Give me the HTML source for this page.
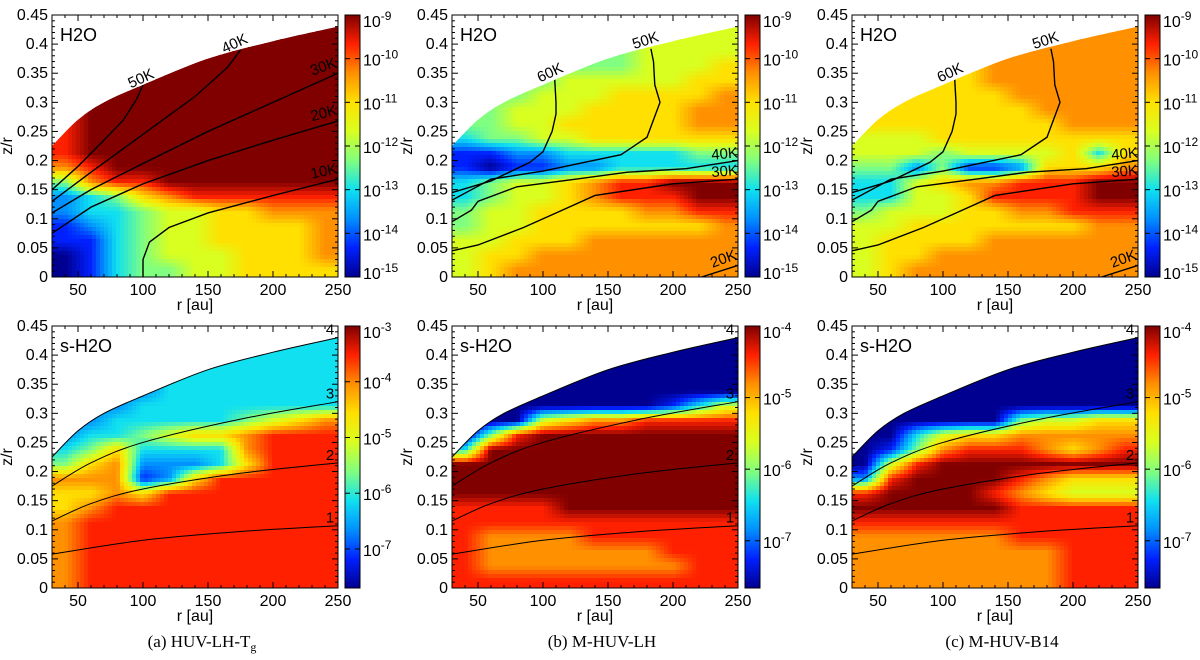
<!DOCTYPE html>
<html><head><meta charset="utf-8">
<style>
html,body{margin:0;padding:0;background:#fff;}
svg{display:block;}
text{font-family:"Liberation Sans",Arial,sans-serif;}
.cap{font-family:"Liberation Serif",serif;font-size:17px;}
</style></head>
<body>
<svg id="fig" width="1200" height="660" viewBox="0 0 1200 660" xmlns="http://www.w3.org/2000/svg">
<defs>
<linearGradient id="jet" x1="0" y1="1" x2="0" y2="0">
<stop offset="0" stop-color="#000090"/><stop offset="0.111" stop-color="#0020ff"/><stop offset="0.222" stop-color="#0090ff"/><stop offset="0.333" stop-color="#10e0f0"/><stop offset="0.444" stop-color="#80ff80"/><stop offset="0.556" stop-color="#d8ff20"/><stop offset="0.667" stop-color="#ffe000"/><stop offset="0.778" stop-color="#ff9000"/><stop offset="0.889" stop-color="#ff2000"/><stop offset="1" stop-color="#800000"/>
</linearGradient>
</defs>
</svg>
<script>
// ---- data ----
const rBins = [30,50,70,90,110,130,150,170,190,210,230,250];
const zTop = 0.45, zStep = 0.025;
const surfaceR = [30,50,70,100,150,200,250];
const surfaceZ = [0.225,0.27,0.30,0.33,0.375,0.405,0.43];

const gridA = [
[8,9,9,9,9,9,9,9,9,9,9],[8,9,9,9,9,9,9,9,9,9,9],[8,9,9,9,9,9,9,9,9,9,9],[8,9,9,9,9,9,9,9,9,9,9],
[8,9,9,9,9,9,9,9,9,9,9],[8,9,9,9,9,9,9,9,9,9,9],[8,9,9,9,9,9,9,9,9,9,9],[8,9,9,9,9,9,9,9,9,9,9],
[8,9,9,9,9,9,9,9,9,9,9],[8,9,9,9,9,9,9,9,9,9,9],[7,8,9,9,9,9,9,9,9,9,9],[4,7,8,8,9,9,9,9,9,9,9],
[2,3,4,6,7,8,8,8,8,8,8],[2,3,3,4,5,5,6,6,7,7,7],[1,2,3,4,5,5,6,6,6,6,7],[1,1,3,4,5,5,6,6,6,6,7],
[0,1,3,4,5,5,5,6,6,6,7],[0,1,3,4,4,5,5,6,6,6,6]];
const gridB = [
[4,4,4,4,4,4,4,5,5,5,5],[4,4,4,4,4,4,4,5,5,5,5],[4,4,4,4,4,4,4,5,5,5,5],[4,4,4,4,4,4,4,5,5,5,6],
[4,4,4,4,5,5,5,5,5,6,6],[4,4,4,5,5,5,6,6,6,6,7],[4,4,5,5,5,6,6,6,6,7,7],[4,4,5,5,6,6,6,6,6,7,7],
[3,4,4,5,5,6,6,6,6,6,6],[1,1,2,2,3,3,3,3,3,4,4],[1,0,1,1,2,2,3,3,3,3,3],[3,4,5,5,6,7,8,8,9,9,9],
[3,4,5,5,6,7,8,8,8,9,9],[4,5,5,6,6,6,6,7,7,8,8],[4,5,5,6,6,6,6,6,6,6,7],[5,5,6,6,6,7,7,7,7,7,7],
[5,6,6,7,7,7,7,7,7,7,7],[5,6,7,7,7,7,7,7,7,7,7]];
const gridC = [
[6,6,6,6,6,7,7,7,7,7,7],[6,6,6,6,6,7,7,7,7,7,7],[6,6,6,6,6,7,7,7,7,7,7],[6,6,6,6,6,7,7,7,7,7,7],
[6,6,6,6,6,7,7,7,7,7,7],[6,6,6,6,6,6,7,7,7,7,7],[6,6,6,6,6,6,6,7,7,7,7],[6,6,6,6,6,6,6,6,7,7,7],
[5,5,5,6,6,6,6,6,6,6,6],[5,5,5,4,5,5,5,5,6,3,6],[4,4,2,4,1,1,2,6,6,6,7],[3,3,5,6,7,7,8,8,8,9,9],
[3,3,5,5,6,8,8,8,8,9,9],[4,5,5,5,6,6,7,7,8,8,8],[5,5,6,6,6,6,6,6,6,7,7],[5,6,6,6,6,7,7,7,7,7,7],
[5,6,6,7,7,7,7,7,7,7,7],[5,6,7,7,7,7,7,7,7,7,7]];
const gridD = [
[2,2,2,2,2,2,2,3,3,3,3],[2,2,2,2,2,2,3,3,3,3,3],[2,2,2,2,2,3,3,3,3,3,3],[1,2,2,2,3,3,3,3,3,3,3],
[1,2,2,2,3,3,3,3,3,3,3],[1,2,2,3,3,3,3,3,3,3,3],[2,2,3,3,3,3,3,4,5,6,7],[2,3,3,4,5,6,6,7,8,8,8],
[3,4,6,3,3,3,3,7,8,8,8],[4,6,7,2,2,2,3,6,8,8,8],[7,7,7,1,2,6,8,8,8,8,8],[6,6,7,6,8,8,8,8,8,8,8],
[6,7,8,8,8,8,8,8,8,8,8],[7,8,8,8,8,8,8,8,8,8,8],[7,8,8,8,8,8,8,8,8,8,8],[7,8,8,8,8,8,8,8,8,8,8],
[7,8,8,8,8,8,8,8,8,8,8],[7,8,8,8,8,8,8,8,8,8,8]];
const gridE = [
[0,0,0,0,0,0,0,0,0,0,0],[0,0,0,0,0,0,0,0,0,0,0],[0,0,0,0,0,0,0,0,0,0,0],[0,0,0,0,0,0,0,0,0,0,0],
[0,0,0,0,0,0,0,0,0,0,0],[0,0,0,0,0,0,0,0,1,3,5],[0,0,0,5,6,7,7,8,8,8,8],[0,4,8,9,9,9,9,9,9,9,9],
[3,9,9,9,9,9,9,9,9,9,9],[9,9,9,9,9,9,9,9,9,9,9],[9,9,9,9,9,9,9,9,9,9,9],[9,9,9,9,9,9,9,9,9,9,9],
[8,8,8,8,9,9,9,9,9,9,9],[8,8,8,8,8,8,8,8,8,8,8],[8,7,7,7,7,8,8,8,8,8,8],[8,7,7,7,7,7,7,7,8,8,8],
[8,7,7,7,7,7,7,7,7,8,8],[8,8,8,8,8,8,8,8,8,8,8]];
const gridF = [
[0,0,0,0,0,0,0,0,0,0,0],[0,0,0,0,0,0,0,0,0,0,0],[0,0,0,0,0,0,0,0,0,0,0],[0,0,0,0,0,0,0,0,0,0,0],
[0,0,0,0,0,0,0,0,0,0,0],[0,0,0,0,0,0,0,0,0,0,0],[0,0,0,0,0,0,4,5,5,6,6],[0,0,3,5,6,6,7,7,7,7,7],
[0,1,4,7,8,8,8,7,6,7,8],[0,5,8,9,9,9,9,9,9,9,9],[2,8,9,9,9,9,8,7,6,6,6],[8,9,9,9,9,8,7,6,5,5,5],
[9,9,9,9,9,9,8,8,8,8,8],[8,8,8,8,8,8,8,8,8,8,8],[7,7,7,7,7,7,8,8,8,8,8],[7,7,7,7,7,7,7,7,8,8,8],
[7,7,7,7,7,7,7,7,8,8,8],[7,7,7,7,7,7,7,7,8,8,8]];

const tA50 = [[30,0.15],[50,0.19],[70,0.235],[85,0.27],[95,0.305],[100,0.33]];
const tA40 = [[30,0.13],[60,0.18],[100,0.245],[140,0.31],[165,0.36],[175,0.39]];
const tA30 = [[30,0.11],[60,0.15],[100,0.195],[150,0.25],[200,0.30],[250,0.35]];
const tA20 = [[30,0.075],[60,0.12],[100,0.16],[150,0.2],[200,0.235],[250,0.268]];
const tA10 = [[100,0],[100,0.03],[105,0.06],[120,0.085],[150,0.11],[200,0.14],[250,0.168]];
const tB60 = [[30,0.145],[60,0.165],[90,0.197],[100,0.215],[107,0.25],[110,0.28],[110,0.30],[109,0.34]];
const tB50 = [[30,0.132],[60,0.168],[100,0.182],[160,0.21],[180,0.24],[190,0.30],[186,0.33],[185,0.37],[183,0.392]];
const tB40 = [[30,0.095],[45,0.115],[50,0.13],[80,0.155],[125,0.168],[165,0.18],[210,0.186],[250,0.2]];
const tB30 = [[30,0.045],[50,0.055],[85,0.085],[110,0.11],[140,0.14],[200,0.16],[250,0.168]];
const tB20 = [[222,0],[250,0.02]];
const lev1 = [[30,0.058],[100,0.082],[175,0.097],[250,0.107]];
const lev2 = [[30,0.115],[60,0.145],[100,0.17],[175,0.197],[250,0.215]];
const lev3 = [[30,0.175],[60,0.215],[100,0.25],[175,0.29],[250,0.32]];

const xTicks = [50,100,150,200,250];
const yTicks = [0,0.05,0.1,0.15,0.2,0.25,0.3,0.35,0.4,0.45];
const cbTopExp = [-9,-9,-9,-3,-4,-4];
const cbBotExp = [-15,-15,-15,-7.7,-7.66,-7.66];
const cbLabels = [[-9,-10,-11,-12,-13,-14,-15],[-9,-10,-11,-12,-13,-14,-15],[-9,-10,-11,-12,-13,-14,-15],[-3,-4,-5,-6,-7],[-4,-5,-6,-7],[-4,-5,-6,-7]];
const titles = ["H2O","H2O","H2O","s-H2O","s-H2O","s-H2O"];
const captions = ["(a) HUV-LH-T","(b) M-HUV-LH","(c) M-HUV-B14"];

// ---- drawing ----
const NS="http://www.w3.org/2000/svg";
const svg=document.getElementById('fig');
const cmap=[[0,0,144],[0,32,255],[0,144,255],[16,224,240],[128,255,128],[216,255,32],[255,224,0],[255,144,0],[255,32,0],[128,0,0]];
function col(v){v=Math.max(0,Math.min(9,v));const i=Math.min(8,Math.floor(v)),f=v-i;
  const a=cmap[i],b=cmap[i+1];return 'rgb('+a.map((c,k)=>Math.round(c+(b[k]-c)*f)).join(',')+')';}
const PX=[52,452,852], PY=[15,326], W=286, H=262;
function mk(tag,attrs,parent){const e=document.createElementNS(NS,tag);for(const k in attrs)e.setAttribute(k,attrs[k]);(parent||svg).appendChild(e);return e;}
function smooth(pts){ // catmull-rom path
  let d='M'+pts[0][0]+','+pts[0][1];
  for(let i=0;i<pts.length-1;i++){const p0=pts[Math.max(0,i-1)],p1=pts[i],p2=pts[i+1],p3=pts[Math.min(pts.length-1,i+2)];
    d+=' C'+(p1[0]+(p2[0]-p0[0])/6)+','+(p1[1]+(p2[1]-p0[1])/6)+' '+(p2[0]-(p3[0]-p1[0])/6)+','+(p2[1]-(p3[1]-p1[1])/6)+' '+p2[0]+','+p2[1];}
  return d;}
function sample(g,r,z){ // bilinear on cell centres
  const nc=g[0].length,nr=g.length;
  let cx=(r-30)/20-0.5; let cy=(zTop-z)/zStep-0.5;
  cx=Math.max(0,Math.min(nc-1,cx)); cy=Math.max(0,Math.min(nr-1,cy));
  const i0=Math.floor(cx),j0=Math.floor(cy),i1=Math.min(nc-1,i0+1),j1=Math.min(nr-1,j0+1),fx=cx-i0,fy=cy-j0;
  const a=g[j0][i0]*(1-fx)+g[j0][i1]*fx, b=g[j1][i0]*(1-fx)+g[j1][i1]*fx;
  return a*(1-fy)+b*fy;}

const cT=[[tB60,"60K",107,0.34,-25],[tB50,"50K",180,0.395,-18],[tB40,"40K",240,0.2,-5],[tB30,"30K",240,0.17,-5],[tB20,"20K",240,0.02,-20]];
const panels=[
 {g:gridA,c:[[tA50,"50K",100,0.33,-25],[tA40,"40K",172,0.39,-25],[tA30,"30K",240,0.35,-20],[tA20,"20K",240,0.27,-15],[tA10,"10K",240,0.17,-12]],lev:false},
 {g:gridB,c:cT,lev:false},{g:gridC,c:cT,lev:false},
 {g:gridD,lev:true},{g:gridE,lev:true},{g:gridF,lev:true}];

panels.forEach((p,i)=>{
  const ox=PX[i%3], oy=PY[Math.floor(i/3)];
  const xs=r=>ox+(r-30)/220*W, ys=z=>oy+H-z/0.45*H;
  const pts=a=>a.map(q=>[xs(q[0]),ys(q[1])]);
  const grp=mk('g',{});
  
  
  const cid='clip'+i;
  const cp=mk('clipPath',{id:cid},grp);
  const surf=pts(surfaceR.map((r,k)=>[r,surfaceZ[k]]));
  let d=smooth(surf)+' L'+xs(250)+','+ys(0)+' L'+xs(30)+','+ys(0)+' Z';
  mk('path',{d:d},cp);
  const hm=mk('g',{'clip-path':'url(#'+cid+')'},grp);
  
  
  const step=4;
  for(let y=0;y<H;y+=step){for(let x=0;x<W;x+=step){
    const r=30+(x+step/2)/W*220, z=(H-(y+step/2))/H*0.45;
    const c=mk('rect',{x:ox+x,y:oy+y,width:step+0.5,height:step+0.5,fill:col(sample(p.g,r,z))},hm);
    
    
  }}
  if(!p.lev){
    p.c.forEach(c=>{
      const l=mk('path',{d:'M'+pts(c[0]).join(' L'),fill:'none',stroke:'#000','stroke-width':1.4},hm);
      
      
      const t=mk('text',{x:xs(c[2]),y:ys(c[3])-2,'font-size':15,'text-anchor':'middle',transform:'rotate('+c[4]+' '+xs(c[2])+' '+(ys(c[3])-2)+')'},grp);
      t.textContent=c[1];
      
      
    });
  } else {
    const l4=surfaceR.map((r,k)=>[r,surfaceZ[k]]);
    [[lev1,"1"],[lev2,"2"],[lev3,"3"],[l4,"4"]].forEach(c=>{
      const l=mk('path',{d:smooth(pts(c[0])),fill:'none',stroke:'#000','stroke-width':1},grp);
      
      
      const last=c[0][c[0].length-1];
      const t=mk('text',{x:xs(last[0])-8,y:ys(last[1])-3,'font-size':15,'text-anchor':'middle'},grp);
      t.textContent=c[1];
      
      
    });
  }
  const fr=mk('rect',{x:ox,y:oy,width:W,height:H,fill:'none',stroke:'#000','stroke-width':1},grp);
  
  
  for(let r=40;r<=250;r+=10){const big=r%50===0;
    mk('line',{x1:xs(r),x2:xs(r),y1:oy+H,y2:oy+H-(big?6:3),stroke:'#000'},grp);
    mk('line',{x1:xs(r),x2:xs(r),y1:oy,y2:oy+(big?6:3),stroke:'#000'},grp);}
  for(let k=0;k<=45;k++){const z=k/100,big=k%5===0;
    mk('line',{x1:ox,x2:ox+(big?6:3),y1:ys(z),y2:ys(z),stroke:'#000'},grp);
    mk('line',{x1:ox+W,x2:ox+W-(big?6:3),y1:ys(z),y2:ys(z),stroke:'#000'},grp);}
  xTicks.forEach(r=>{const t=mk('text',{x:xs(r),y:oy+H+18,'font-size':16,'text-anchor':'middle'},grp);t.textContent=r;
    });
  yTicks.forEach(z=>{const t=mk('text',{x:ox-4,y:ys(z)+5,'font-size':16,'text-anchor':'end'},grp);t.textContent=String(z);
    });
  const xl=mk('text',{x:ox+W/2,y:oy+H+33,'font-size':16,'text-anchor':'middle'},grp);xl.textContent='r [au]';
  
  const yl=mk('text',{x:ox-40,y:oy+H/2,'font-size':16,'text-anchor':'middle',transform:'rotate(-90 '+(ox-40)+' '+(oy+H/2)+')'},grp);yl.textContent='z/r';
  
  const tt=mk('text',{x:ox+8,y:oy+26,'font-size':18},grp);tt.textContent=titles[i];
  
  const cx=ox+W+7, cw=15;
  const cb=mk('rect',{x:cx,y:oy,width:cw,height:H,fill:'url(#jet)',stroke:'#000','stroke-width':1},grp);
  
  const e0=cbTopExp[i], e1=cbBotExp[i];
  cbLabels[i].forEach(e=>{const y=oy+(e0-e)/(e0-e1)*H;
    mk('line',{x1:cx,x2:cx+5,y1:y,y2:y,stroke:'#000'},grp);
    mk('line',{x1:cx+cw,x2:cx+cw-5,y1:y,y2:y,stroke:'#000'},grp);
    const t=mk('text',{x:cx+cw+3,y:y+7+(e===e0?5:0)+(e===-15?-5:0),'font-size':16},grp);
    t.textContent='10';
    const s=mk('tspan',{dy:-7,'font-size':12},t);s.textContent=String(e);
    });
});
captions.forEach((c,k)=>{
  const t=mk('text',{x:PX[k]+150,y:647,'text-anchor':'middle',class:'cap'});
  t.textContent=c;
  if(k===0){const s=mk('tspan',{dy:4,'font-size':12},t);s.textContent='g';}
  
  
});
</script>
</body></html>
